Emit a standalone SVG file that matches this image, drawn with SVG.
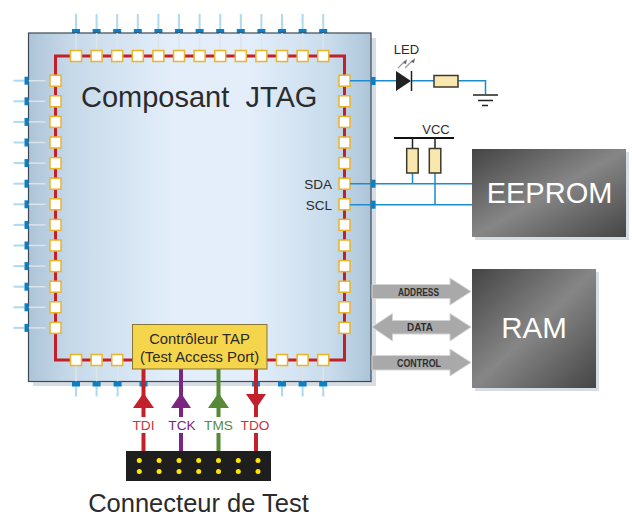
<svg xmlns="http://www.w3.org/2000/svg" xmlns:xlink="http://www.w3.org/1999/xlink" width="632" height="516" viewBox="0 0 632 516">
<style>
text{font-family:"Liberation Sans",Arial,sans-serif;fill:#2b2b2b}
.pad{fill:#fff;stroke:#ebb42a;stroke-width:1.5}
.faint{stroke:#dde4ea;stroke-width:1.5;fill:none}
.pin{stroke:#b0d8ee;stroke-width:2;fill:none}
.tab{fill:#0b80c3}
.wire{stroke:#1d8ccb;stroke-width:1.5;fill:none}
.blk{stroke:#222;fill:none}
.res{fill:#f9e7b0;stroke:#3c3a2c;stroke-width:1.5}
.bus{fill:#a9a9a9;stroke:#d4d4d4;stroke-width:1}
.bl{font-size:10px;font-weight:bold;text-anchor:middle;fill:#2e2e2e}
.sig{font-size:13.7px;text-anchor:middle}
.dot{fill:#ffe600}
.shadow{fill:#d7dde5}
</style>
<defs>
<linearGradient id="chipG" x1="0" x2="1" y1="0" y2="0"><stop offset="0" stop-color="#adc4d8"/><stop offset=".12" stop-color="#c6d9e9"/><stop offset=".42" stop-color="#e3eefa"/><stop offset=".65" stop-color="#e3eefa"/><stop offset=".88" stop-color="#c8dcec"/><stop offset="1" stop-color="#adc4d8"/></linearGradient>
<linearGradient id="memG" x1="0" y1="0" x2="1" y2="1"><stop offset="0" stop-color="#444"/><stop offset=".5" stop-color="#868686"/><stop offset="1" stop-color="#454545"/></linearGradient>
<rect id="p" class="pad" x="-5.5" y="-5.5" width="11" height="11"/>
<g id="t"><path class="pin" d="M0 -15V0"/><rect class="tab" x="-4" y="0" width="8" height="4"/></g>
<g id="b"><path class="faint" d="M0 -16V0"/><path class="pin" d="M0 5V15"/><rect class="tab" x="-4" y="0" width="8" height="5"/></g>
<g id="l"><path class="faint" d="M4 0H21"/><path class="pin" d="M-11 0H0"/><rect class="tab" x="0" y="-4" width="4" height="8"/></g>
</defs>
<rect width="632" height="516" fill="#fff"/>
<g id="chip">
<rect class="shadow" x="33" y="38" width="343" height="348"/>
<g id="pins-top">
<use xlink:href="#t" x="76" y="29"/><use xlink:href="#t" x="96.6" y="29"/><use xlink:href="#t" x="117.2" y="29"/><use xlink:href="#t" x="137.8" y="29"/><use xlink:href="#t" x="158.4" y="29"/><use xlink:href="#t" x="179" y="29"/><use xlink:href="#t" x="199.6" y="29"/><use xlink:href="#t" x="220.2" y="29"/><use xlink:href="#t" x="240.8" y="29"/><use xlink:href="#t" x="261.4" y="29"/><use xlink:href="#t" x="282" y="29"/><use xlink:href="#t" x="302.6" y="29"/><use xlink:href="#t" x="323.2" y="29"/>
</g>
<rect x="28.5" y="33" width="342.5" height="348.5" fill="url(#chipG)" stroke="#3d4a55" stroke-width="1.2"/>
<g id="pins-inner">
<path class="faint" d="M76 33V50M96.6 33V50M117.2 33V50M137.8 33V50M158.4 33V50M179 33V50M199.6 33V50M220.2 33V50M240.8 33V50M261.4 33V50M282 33V50M302.6 33V50M323.2 33V50"/>
</g>
<g id="pins-left">
<use xlink:href="#l" x="24.5" y="80.7"/><use xlink:href="#l" x="24.5" y="101.3"/><use xlink:href="#l" x="24.5" y="121.9"/><use xlink:href="#l" x="24.5" y="142.5"/><use xlink:href="#l" x="24.5" y="163.1"/><use xlink:href="#l" x="24.5" y="183.7"/><use xlink:href="#l" x="24.5" y="204.3"/><use xlink:href="#l" x="24.5" y="224.9"/><use xlink:href="#l" x="24.5" y="245.5"/><use xlink:href="#l" x="24.5" y="266.1"/><use xlink:href="#l" x="24.5" y="286.7"/><use xlink:href="#l" x="24.5" y="307.3"/><use xlink:href="#l" x="24.5" y="327.9"/>
</g>
<g id="pins-bottom">
<use xlink:href="#b" x="76" y="381.5"/><use xlink:href="#b" x="96.6" y="381.5"/><use xlink:href="#b" x="117.6" y="381.5"/><use xlink:href="#b" x="143.5" y="381.5"/><use xlink:href="#b" x="256" y="381.5"/><use xlink:href="#b" x="282" y="381.5"/><use xlink:href="#b" x="302.6" y="381.5"/><use xlink:href="#b" x="323.2" y="381.5"/>
</g>
<path d="M55.5 360H344.5V56H55.5Z" fill="none" stroke="#c4202b" stroke-width="3"/>
<g id="pads">
<use xlink:href="#p" x="76" y="56"/><use xlink:href="#p" x="96.6" y="56"/><use xlink:href="#p" x="117.2" y="56"/><use xlink:href="#p" x="137.8" y="56"/><use xlink:href="#p" x="158.4" y="56"/><use xlink:href="#p" x="179" y="56"/><use xlink:href="#p" x="199.6" y="56"/><use xlink:href="#p" x="220.2" y="56"/><use xlink:href="#p" x="240.8" y="56"/><use xlink:href="#p" x="261.4" y="56"/><use xlink:href="#p" x="282" y="56"/><use xlink:href="#p" x="302.6" y="56"/><use xlink:href="#p" x="323.2" y="56"/>
<use xlink:href="#p" x="55.5" y="80.7"/><use xlink:href="#p" x="55.5" y="101.3"/><use xlink:href="#p" x="55.5" y="121.9"/><use xlink:href="#p" x="55.5" y="142.5"/><use xlink:href="#p" x="55.5" y="163.1"/><use xlink:href="#p" x="55.5" y="183.7"/><use xlink:href="#p" x="55.5" y="204.3"/><use xlink:href="#p" x="55.5" y="224.9"/><use xlink:href="#p" x="55.5" y="245.5"/><use xlink:href="#p" x="55.5" y="266.1"/><use xlink:href="#p" x="55.5" y="286.7"/><use xlink:href="#p" x="55.5" y="307.3"/><use xlink:href="#p" x="55.5" y="327.9"/>
<use xlink:href="#p" x="344.5" y="80.7"/><use xlink:href="#p" x="344.5" y="101.3"/><use xlink:href="#p" x="344.5" y="121.9"/><use xlink:href="#p" x="344.5" y="142.5"/><use xlink:href="#p" x="344.5" y="163.1"/><use xlink:href="#p" x="344.5" y="183.7"/><use xlink:href="#p" x="344.5" y="204.3"/><use xlink:href="#p" x="344.5" y="224.9"/><use xlink:href="#p" x="344.5" y="245.5"/><use xlink:href="#p" x="344.5" y="266.1"/><use xlink:href="#p" x="344.5" y="286.7"/><use xlink:href="#p" x="344.5" y="307.3"/><use xlink:href="#p" x="344.5" y="327.9"/>
<use xlink:href="#p" x="76" y="360"/><use xlink:href="#p" x="96.6" y="360"/><use xlink:href="#p" x="117.2" y="360"/><use xlink:href="#p" x="282" y="360"/><use xlink:href="#p" x="302.6" y="360"/><use xlink:href="#p" x="323.2" y="360"/>
</g>
<text x="81" y="106.5" font-size="29" xml:space="preserve">Composant  JTAG</text>
<text x="332" y="189" font-size="13.5" text-anchor="end">SDA</text>
<text x="332" y="210" font-size="13.5" text-anchor="end">SCL</text>
</g>
<g id="connectors">
<path class="wire" d="M350 80.7H396M411 80.7H434M458 80.7H485.5V94.5"/>
<path class="wire" d="M350 183.7H472M350 204.7H472M412.5 173V183.7M435 173V204.7"/>
<rect class="tab" x="371" y="77" width="4.5" height="8"/>
<rect class="tab" x="371" y="179.7" width="4.5" height="8"/>
<rect class="tab" x="371" y="200.7" width="4.5" height="8"/>
<g id="bus-address"><path class="bus" d="M372 284.5H450V278L471 291.5L450 305V298.5H372Z"/><text class="bl" x="418.5" y="295.5" textLength="41" lengthAdjust="spacingAndGlyphs">ADDRESS</text></g>
<g id="bus-data"><path class="bus" d="M372 327L392.5 313.5V320.5H450V313.5L471 327L450 341V334H392.5V341Z"/><text class="bl" x="420" y="331" textLength="26" lengthAdjust="spacingAndGlyphs">DATA</text></g>
<g id="bus-control"><path class="bus" d="M372 355.5H450V349L471 362.5L450 376V370H372Z"/><text class="bl" x="419" y="366.5" textLength="44" lengthAdjust="spacingAndGlyphs">CONTROL</text></g>
<g id="sig-tdi" fill="#c4202b" stroke="none"><path d="M143.5 369V417M143.5 433V451" stroke="#c4202b" stroke-width="4"/><path d="M143.5 393L154 408H133Z"/><text class="sig" x="143.5" y="430" style="fill:#c9313c">TDI</text></g>
<g id="sig-tck" fill="#7b2781"><path d="M181 369V417M181 433V451" stroke="#7b2781" stroke-width="4"/><path d="M181 393L191 408H171Z"/><text class="sig" x="182" y="430" style="fill:#7b2781">TCK</text></g>
<g id="sig-tms" fill="#578a37"><path d="M218.5 369V417M218.5 433V451" stroke="#578a37" stroke-width="4"/><path d="M218.5 393L229 408H208Z"/><text class="sig" x="218.5" y="430" style="fill:#578a37">TMS</text></g>
<g id="sig-tdo" fill="#c4202b"><path d="M256 369V417M256 433V451" stroke="#c4202b" stroke-width="4"/><path d="M256 408.5L246 394H266Z"/><text class="sig" x="255" y="430" style="fill:#c9313c">TDO</text></g>
</g>
<g id="tap">
<rect x="132.5" y="324.5" width="134.5" height="44.5" fill="#f5d54c" stroke="#857738" stroke-width="1"/>
<text x="199.5" y="344" font-size="14.8" text-anchor="middle">Contrôleur TAP</text>
<text x="199.5" y="361.5" font-size="14.8" text-anchor="middle">(Test Access Port)</text>
</g>
<g id="led">
<path d="M396 71L411 81L396 91Z" fill="#222"/>
<path class="blk" stroke-width="1.5" d="M411.5 71V91"/>
<path d="M398 68L405 61M405 68L413 60" stroke="#999" stroke-width="1.2" fill="none"/>
<path d="M403 63L407 59L406 64ZM411 62L415 58L414 63Z" fill="#666"/>
<text x="406.5" y="54" font-size="13" text-anchor="middle">LED</text>
<rect class="res" x="434" y="75.5" width="24" height="11.5"/>
</g>
<g id="ground"><path class="blk" stroke-width="1.5" d="M473 95H498M478 100.5H493M482 105.5H488"/></g>
<g id="vcc">
<path stroke="#111" stroke-width="2" d="M394 138H454" fill="none"/>
<path class="blk" stroke-width="1.5" d="M412.5 138V148M435 138V148"/>
<rect class="res" x="406.7" y="148.5" width="11.5" height="24.5"/>
<rect class="res" x="429.3" y="148.5" width="11.5" height="24.5"/>
<text x="436" y="134" font-size="13" text-anchor="middle">VCC</text>
</g>
<g id="eeprom">
<rect class="shadow" x="475" y="152" width="154" height="88"/>
<rect x="472" y="149" width="154" height="88" fill="url(#memG)"/>
<text x="549.5" y="203" font-size="29" text-anchor="middle" style="fill:#fff">EEPROM</text>
</g>
<g id="ram">
<rect class="shadow" x="475" y="272" width="124" height="119"/>
<rect x="472" y="269" width="124" height="119" fill="url(#memG)"/>
<text x="534" y="338" font-size="29.5" text-anchor="middle" style="fill:#fff">RAM</text>
</g>
<g id="test-connector">
<rect x="126" y="451" width="145" height="30" fill="#1e1e1e"/>
<g class="dot"><circle cx="139.3" cy="460.5" r="2.5"/><circle cx="159.1" cy="460.5" r="2.5"/><circle cx="179" cy="460.5" r="2.5"/><circle cx="198.7" cy="460.5" r="2.5"/><circle cx="218.5" cy="460.5" r="2.5"/><circle cx="238.3" cy="460.5" r="2.5"/><circle cx="258" cy="460.5" r="2.5"/><circle cx="139.3" cy="471.5" r="2.5"/><circle cx="159.1" cy="471.5" r="2.5"/><circle cx="179" cy="471.5" r="2.5"/><circle cx="198.7" cy="471.5" r="2.5"/><circle cx="218.5" cy="471.5" r="2.5"/><circle cx="238.3" cy="471.5" r="2.5"/><circle cx="258" cy="471.5" r="2.5"/></g>
<text x="198.5" y="512" font-size="25.5" text-anchor="middle">Connecteur de Test</text>
</g>
</svg>
